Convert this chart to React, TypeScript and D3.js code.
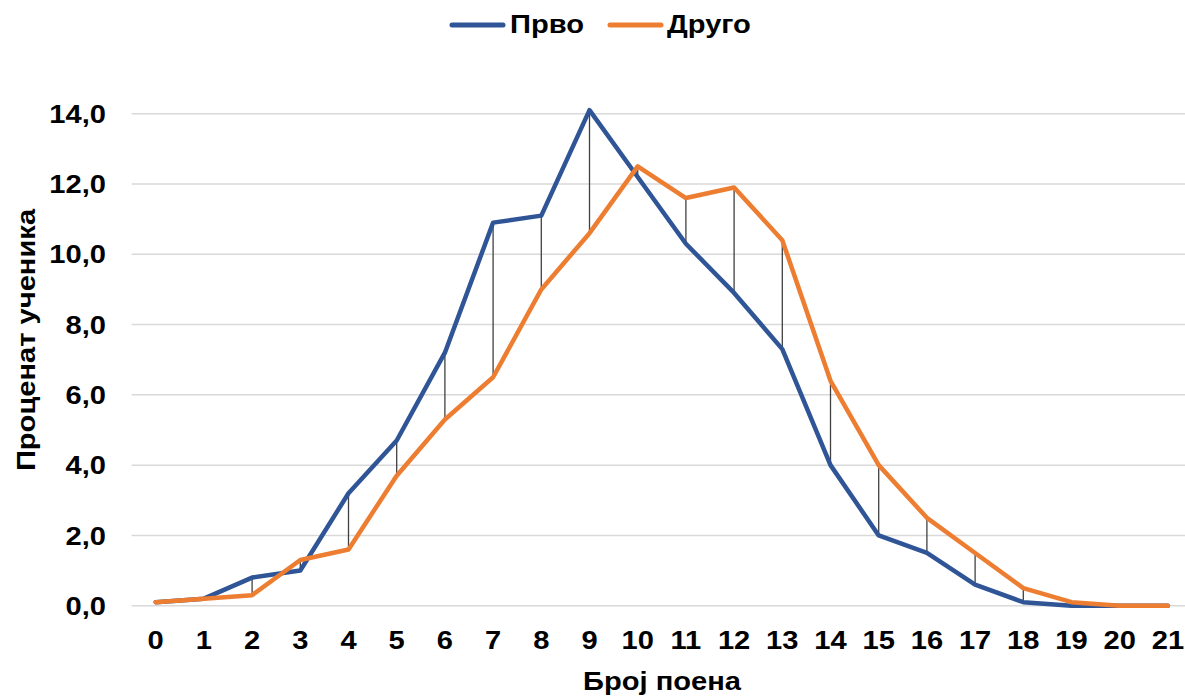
import React from "react";
import * as d3 from "d3";

const points: number[] = d3.range(0, 22);
const prvo: number[] = [0.1, 0.2, 0.8, 1.0, 3.2, 4.7, 7.2, 10.9, 11.1, 14.1, 12.2, 10.3, 8.9, 7.3, 4.0, 2.0, 1.5, 0.6, 0.1, 0.0, 0.0, 0.0];
const drugo: number[] = [0.1, 0.2, 0.3, 1.3, 1.6, 3.7, 5.3, 6.5, 9.0, 10.6, 12.5, 11.6, 11.9, 10.4, 6.4, 4.0, 2.5, 1.5, 0.5, 0.1, 0.0, 0.0];
const yTicks: number[] = [0, 2, 4, 6, 8, 10, 12, 14];
const seriesNames: string[] = ["Прво", "Друго"];
const seriesColors: string[] = ["#2F5597", "#ED7D31"];
const xTitle = "Број поена";
const yTitle = "Проценат ученика";

const W = 1185;
const H = 696;
const FONT = "'Liberation Sans', Arial, sans-serif";
const SX = 1.12; // horizontal widening of the label glyphs

// Text placed at (x, y), widened horizontally around its anchor point.
function Label(props: {
  x: number;
  y: number;
  anchor?: "start" | "middle" | "end";
  rotate?: number;
  size?: number;
  dy?: string;
  children: React.ReactNode;
}) {
  const { x, y, anchor = "start", rotate = 0, size = 26, dy, children } = props;
  return (
    <text
      transform={`translate(${x},${y}) rotate(${rotate}) scale(${SX},1)`}
      textAnchor={anchor}
      fontSize={size}
      dy={dy}
      fill="#000"
    >
      {children}
    </text>
  );
}

export default function App() {
  const x = d3.scalePoint<number>().domain(points).range([155.7, 1167.9]);
  const step = x.step();
  const y = d3.scaleLinear().domain([0, 14]).range([605.7, 113.7]);
  const plotLeft = (x(0) as number) - step / 2;

  const line = d3
    .line<number>()
    .x((_, i) => x(points[i]) as number)
    .y((d) => y(d));

  const fmt = (v: number) => v.toFixed(1).replace(".", ",");

  return (
    <svg
      width={W}
      height={H}
      style={{ position: "absolute", left: 0, top: 0, background: "#fff" }}
      fontFamily={FONT}
      fontWeight="bold"
    >
      {/* horizontal gridlines */}
      {yTicks.map((t) => (
        <line
          key={"g" + t}
          x1={plotLeft}
          x2={W}
          y1={y(t)}
          y2={y(t)}
          stroke="#d9d9d9"
          strokeWidth={1.5}
        />
      ))}

      {/* y tick labels */}
      {yTicks.map((t) => (
        <Label key={"yt" + t} x={106} y={y(t)} dy="0.35em" anchor="end">
          {fmt(t)}
        </Label>
      ))}

      {/* x tick labels */}
      {points.map((p) => (
        <Label key={"xt" + p} x={x(p) as number} y={649} anchor="middle">
          {p}
        </Label>
      ))}

      {/* high-low lines between the two series */}
      {points.map((p, i) => (
        <line
          key={"hl" + p}
          x1={x(p) as number}
          x2={x(p) as number}
          y1={y(Math.max(prvo[i], drugo[i]))}
          y2={y(Math.min(prvo[i], drugo[i]))}
          stroke="#404040"
          strokeWidth={1.3}
        />
      ))}

      {/* series lines */}
      {[prvo, drugo].map((s, k) => (
        <path
          key={"s" + k}
          d={line(s) || ""}
          fill="none"
          stroke={seriesColors[k]}
          strokeWidth={4.5}
          strokeLinejoin="round"
          strokeLinecap="round"
        />
      ))}

      {/* legend */}
      <g>
        <line x1={452} x2={503} y1={25} y2={25} stroke={seriesColors[0]} strokeWidth={5} strokeLinecap="round" />
        <Label x={510} y={33}>{seriesNames[0]}</Label>
        <line x1={610} x2={661} y1={25} y2={25} stroke={seriesColors[1]} strokeWidth={5} strokeLinecap="round" />
        <Label x={667} y={33}>{seriesNames[1]}</Label>
      </g>

      {/* axis titles */}
      <Label x={662} y={690} anchor="middle">
        {xTitle}
      </Label>
      <Label x={35} y={340} anchor="middle" rotate={-90}>
        {yTitle}
      </Label>
    </svg>
  );
}
